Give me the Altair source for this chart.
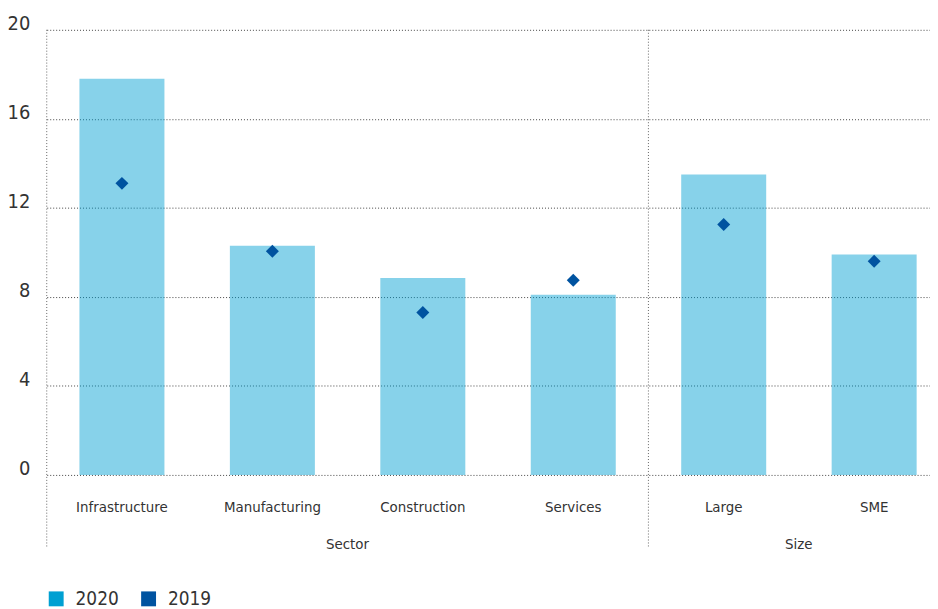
import altair as alt
import pandas as pd

categories = ["Infrastructure", "Manufacturing", "Construction", "Services", "Large", "SME"]
values_2020 = [17.8, 10.3, 8.85, 8.1, 13.5, 9.9]
values_2019 = [13.1, 10.05, 7.3, 8.75, 11.25, 9.6]
group_labels = ["Sector", "Size"]
group_anchor = ["Construction", "SME"]
separator_anchor = ["Large"]
years = ["2020", "2019"]
colors = ["#00A0D2", "#0053A0"]
y_ticks = [0, 4, 8, 12, 16, 20]

FONT = "DejaVu Sans Condensed, Liberation Sans, sans-serif"
TXT = "#333333"
HALF_GAP = -33

bars_df = pd.DataFrame({"category": categories, "value": values_2020, "series": "2020"})
pts_df = pd.DataFrame({"category": categories, "value": values_2019, "series": "2019"})
grp_df = pd.DataFrame({"label": group_labels, "category": group_anchor})
sep_df = pd.DataFrame({"category": separator_anchor})

xscale = alt.Scale(domain=categories, paddingInner=0.435, paddingOuter=0.153, align=0.71, round=False)
yscale = alt.Scale(domain=[0, 20])

color = alt.Color(
    "series:N",
    scale=alt.Scale(domain=years, range=colors),
    legend=alt.Legend(
        title=None, orient="none", legendX=0, legendY=563, direction="horizontal",
        symbolType="square", symbolSize=225, symbolOpacity=1, symbolStrokeWidth=0,
        labelFont=FONT, labelFontSize=19, labelColor=TXT, labelOffset=10,
        columnPadding=20,
    ),
)

x_enc = alt.X(
    "category:N", scale=xscale, sort=categories,
    axis=alt.Axis(title=None, labelAngle=0, domain=False, ticks=False, tickSize=0,
                  labelFont=FONT, labelFontSize=15, labelColor=TXT,
                  labelBaseline="alphabetic", labelPadding=37, grid=False),
)
y_enc = alt.Y(
    "value:Q", scale=yscale,
    axis=alt.Axis(title=None, values=y_ticks, domain=False, ticks=False, tickSize=0,
                  grid=True, gridDash=[1, 2], gridColor="#444444", gridWidth=1,
                  labelFont=FONT, labelFontSize=20, labelColor=TXT,
                  labelBaseline="alphabetic", labelPadding=17),
)

bars = alt.Chart(bars_df).mark_bar(opacity=0.47).encode(x=x_enc, y=y_enc, color=color)

points = alt.Chart(pts_df).mark_point(shape="diamond", filled=True, size=170, opacity=1).encode(
    x=alt.X("category:N", scale=xscale, sort=categories),
    y=alt.Y("value:Q", scale=yscale),
    color=color,
)

left_rule = alt.Chart(sep_df).mark_rule(color="#666666", strokeDash=[1, 2], strokeWidth=1).encode(
    x=alt.value(0), y=alt.value(0), y2=alt.value(522)
)
sep_rule = alt.Chart(sep_df).mark_rule(
    color="#666666", strokeDash=[1, 2], strokeWidth=1, xOffset=HALF_GAP
).encode(
    x=alt.X("category:N", scale=xscale, sort=categories, bandPosition=0),
    y=alt.value(0), y2=alt.value(522),
)
grp_text = alt.Chart(grp_df).mark_text(
    font=FONT, fontSize=15, color=TXT, baseline="alphabetic", align="center", dx=HALF_GAP
).encode(
    x=alt.X("category:N", scale=xscale, sort=categories, bandPosition=0),
    y=alt.value(523),
    text="label:N",
)

chart = alt.layer(bars, points, left_rule, sep_rule, grp_text).properties(
    width=889, height=448,
    padding={"left": 39, "top": 20, "right": 0, "bottom": 132},
    autosize=alt.AutoSizeParams(type="none"),
).configure_view(stroke=None)

chart.save("out.html", embed_options={"renderer": "svg", "actions": False})
